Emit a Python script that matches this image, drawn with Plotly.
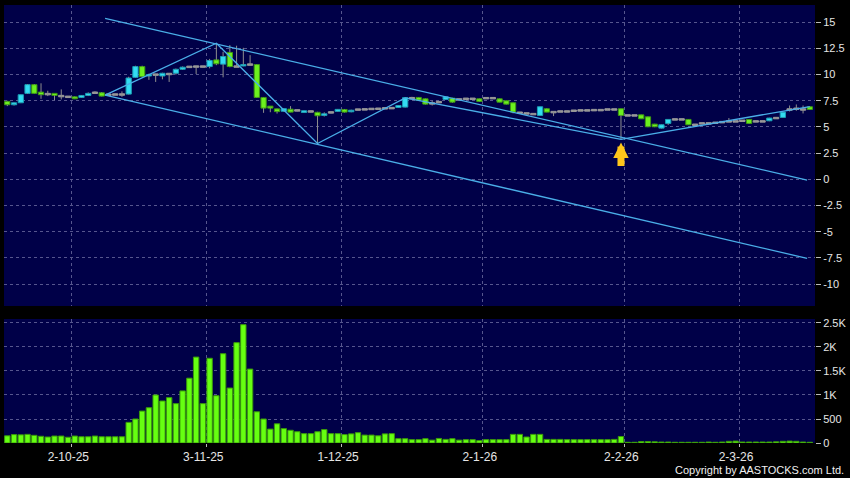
import plotly.graph_objects as go
import pandas as pd

# ---------------- data ----------------
holidays = ["2025-10-01", "2025-10-07", "2025-10-29", "2025-12-25", "2025-12-26",
            "2026-01-01", "2026-02-17", "2026-02-18", "2026-02-19"]
dates = pd.bdate_range("2025-09-17", "2026-03-16")
dates = dates[~dates.isin(pd.to_datetime(holidays))]

open_ = [7.44, 7.12, 7.31, 8.21, 9.04, 8.33, 8.14, 8.21, 7.95, 7.88,
         7.88, 7.82, 8.01, 8.27, 8.27, 8.08, 8.10, 8.10, 8.14, 9.74,
         10.77, 9.87, 10.00, 9.87, 10.06, 10.13, 10.51, 10.74, 10.77, 10.77,
         10.77, 11.41, 11.00, 12.12, 10.77, 10.83, 10.96, 10.96, 7.82, 6.99,
         6.73, 6.50, 6.70, 6.58, 6.38, 6.48, 6.40, 6.10, 6.39, 6.49,
         6.67, 6.45, 6.66, 6.68, 6.72, 6.74, 6.78, 6.80, 6.86, 6.90,
         7.75, 7.82, 7.69, 7.25, 7.37, 7.63, 7.75, 7.63, 7.69, 7.69,
         7.69, 7.75, 7.75, 7.69, 7.50, 7.31, 6.36, 6.29, 6.23, 6.10,
         6.74, 6.42, 6.48, 6.48, 6.55, 6.58, 6.58, 6.61, 6.61, 6.67,
         6.67, 6.74, 6.10, 6.10, 6.16, 5.97, 5.27, 4.89, 5.34, 5.72,
         5.72, 5.72, 5.21, 5.34, 5.34, 5.40, 5.46, 5.53, 5.53, 5.59,
         5.72, 5.53, 5.53, 5.59, 5.85, 5.91, 6.67, 6.74, 6.67, 6.93]
high = [7.50, 7.35, 8.10, 9.10, 9.10, 9.17, 8.46, 8.21, 8.59, 7.95,
        7.92, 8.05, 8.30, 8.40, 8.33, 8.14, 8.14, 8.40, 9.80, 10.85,
        10.85, 10.10, 10.05, 10.18, 10.10, 10.58, 10.78, 10.78, 10.80, 10.80,
        11.50, 13.00, 12.18, 12.82, 12.76, 12.56, 11.86, 11.00, 7.85, 7.00,
        6.76, 6.80, 6.99, 6.65, 6.58, 6.55, 6.45, 6.40, 6.45, 6.72,
        6.72, 6.65, 6.70, 6.72, 6.76, 6.80, 6.84, 6.86, 7.08, 7.82,
        7.88, 7.85, 7.72, 7.50, 7.45, 7.90, 7.78, 7.68, 7.72, 7.75,
        7.72, 7.80, 7.80, 7.72, 7.52, 7.33, 6.42, 6.36, 6.30, 6.95,
        6.78, 6.48, 6.55, 6.55, 6.60, 6.64, 6.64, 6.70, 6.66, 6.72,
        6.72, 6.76, 6.15, 6.14, 6.18, 6.00, 5.30, 5.24, 5.74, 5.76,
        5.76, 5.74, 5.25, 5.40, 5.40, 5.46, 5.52, 5.85, 5.60, 5.66,
        5.74, 5.60, 5.60, 5.88, 5.92, 6.44, 7.05, 7.15, 7.05, 6.95]
low = [6.99, 7.05, 7.28, 8.15, 8.18, 7.69, 7.95, 7.56, 7.63, 7.82,
       7.66, 7.78, 7.95, 8.21, 7.92, 8.01, 8.05, 7.88, 8.10, 9.70,
       9.75, 9.50, 9.30, 9.55, 9.30, 10.00, 10.45, 10.68, 10.06, 10.70,
       10.60, 10.90, 9.74, 10.70, 10.71, 10.80, 10.90, 7.78, 6.35, 6.41,
       6.28, 6.45, 6.40, 6.50, 6.35, 6.40, 3.42, 6.00, 6.30, 6.45,
       6.38, 6.40, 6.60, 6.62, 6.66, 6.68, 6.72, 6.74, 6.84, 6.86,
       7.63, 7.50, 7.15, 7.05, 7.30, 7.60, 7.32, 7.58, 7.64, 7.62,
       7.40, 7.70, 7.70, 7.35, 7.15, 6.30, 6.30, 6.22, 6.18, 6.08,
       6.40, 6.04, 6.42, 6.42, 6.50, 6.52, 6.54, 6.56, 6.56, 6.62,
       6.62, 3.80, 6.05, 6.06, 5.76, 4.98, 4.98, 4.85, 5.20, 5.68,
       5.68, 5.19, 5.17, 5.30, 5.30, 5.36, 5.42, 5.48, 5.48, 5.54,
       5.30, 5.48, 5.48, 5.55, 5.80, 5.88, 6.48, 6.55, 6.29, 6.65]
close = [7.12, 7.31, 8.08, 9.04, 8.21, 8.08, 8.14, 8.01, 7.95, 7.88,
         7.69, 8.01, 8.21, 8.27, 7.95, 8.08, 8.10, 8.10, 9.68, 10.77,
         9.81, 10.00, 10.00, 10.13, 10.06, 10.51, 10.71, 10.74, 10.77, 10.77,
         11.35, 11.03, 11.73, 10.77, 10.77, 10.96, 10.96, 7.82, 6.80, 6.80,
         6.47, 6.75, 6.42, 6.58, 6.55, 6.48, 6.07, 6.26, 6.39, 6.68,
         6.42, 6.60, 6.66, 6.68, 6.72, 6.74, 6.78, 6.80, 7.05, 7.80,
         7.75, 7.56, 7.18, 7.25, 7.37, 7.88, 7.37, 7.63, 7.69, 7.69,
         7.44, 7.75, 7.75, 7.37, 7.18, 6.42, 6.36, 6.29, 6.23, 6.93,
         6.42, 6.42, 6.48, 6.48, 6.55, 6.58, 6.58, 6.61, 6.61, 6.67,
         6.67, 6.10, 6.10, 6.10, 5.78, 5.02, 5.02, 5.21, 5.72, 5.72,
         5.72, 5.21, 5.21, 5.34, 5.34, 5.40, 5.46, 5.53, 5.53, 5.59,
         5.34, 5.53, 5.53, 5.85, 5.85, 6.42, 6.67, 6.74, 6.67, 6.67]
volume = [150, 175, 170, 180, 160, 140, 125, 145, 145, 120,
          145, 130, 130, 145, 130, 130, 130, 130, 430, 500,
          665, 735, 1000, 875, 945, 820, 1085, 1350, 1790, 820,
          1765, 985, 1860, 1145, 2090, 2465, 1540, 650, 500, 290,
          400, 300, 265, 235, 195, 195, 235, 280, 195, 195,
          175, 190, 215, 165, 165, 150, 190, 195, 90, 90,
          70, 70, 90, 60, 95, 75, 90, 60, 70, 70,
          50, 70, 70, 70, 70, 180, 180, 125, 180, 180,
          75, 75, 75, 70, 70, 70, 70, 70, 70, 70,
          75, 135, 15, 15, 30, 30, 25, 20, 20, 15,
          15, 15, 15, 15, 20, 15, 20, 35, 40, 20,
          20, 20, 20, 20, 25, 35, 40, 35, 20, 15]

# trend lines drawn on the chart (bar-index positions, price values)
zigzag_idx = [14.5, 31, 46, 59, 91, 119]
zigzag_val = [8.05, 13.0, 3.42, 7.78, 3.82, 6.95]
channel_idx = [14.5, 118.6]
channel_upper = [15.38, -0.07]
channel_lower = [8.05, -7.55]
arrow_idx = 91

price_ticks = [15, 12.5, 10, 7.5, 5, 2.5, 0, -2.5, -5, -7.5, -10]
price_tick_text = ["15", "12.5", "10", "7.5", "5", "2.5", "0", "-2.5", "-5", "-7.5", "-10"]
vol_ticks = [0, 500, 1000, 1500, 2000, 2500]
vol_tick_text = ["0", "500", "1K", "1.5K", "2K", "2.5K"]

# ---------------- styles ----------------
UP_FILL, UP_EDGE = "#33dcf2", "#1a9fb5"
DN_FILL, DN_EDGE = "#6cf01e", "#3d9a12"
FLAT = "#9a9a9a"
WICK = "#8e8e8e"
LINE = "#4aaee8"
GRID = "#56568e"
BG = "#000048"
FONT = "Liberation Sans, Arial, sans-serif"
TXT = "#e6e6e6"

n = len(close)
x = list(range(n))

# month-start ticks
tick_pos, tick_txt = [], []
for i in range(1, n):
    if dates[i].month != dates[i - 1].month:
        tick_pos.append(i - 0.5)
        tick_txt.append(f"{dates[i].day}-{dates[i].month}-{dates[i].strftime('%y')}")

# candle bodies and wicks
base, length, fill, edge = [], [], [], []
wx, wy = [], []
for o, h, l, c, i in zip(open_, high, low, close, x):
    lo, hi = min(o, c), max(o, c)
    if abs(c - o) < 1e-9:
        base.append(o - 0.07)
        length.append(0.14)
        fill.append(FLAT)
        edge.append(FLAT)
    else:
        base.append(lo)
        length.append(hi - lo)
        fill.append(UP_FILL if c > o else DN_FILL)
        edge.append(UP_EDGE if c > o else DN_EDGE)
    if h > hi:
        wx += [i, i, None]
        wy += [hi, h, None]
    if l < lo:
        wx += [i, i, None]
        wy += [lo, l, None]

fig = go.Figure()
fig.add_trace(go.Bar(x=x, y=length, base=base, width=0.78,
                     marker=dict(color=fill, line=dict(color=edge, width=1)),
                     xaxis="x", yaxis="y", hoverinfo="skip"))
fig.add_trace(go.Scatter(x=wx, y=wy, mode="lines", line=dict(color=WICK, width=1),
                         xaxis="x", yaxis="y", hoverinfo="skip"))
for yy in (channel_upper, channel_lower):
    fig.add_trace(go.Scatter(x=channel_idx, y=yy, mode="lines",
                             line=dict(color=LINE, width=1.3), xaxis="x", yaxis="y"))
fig.add_trace(go.Scatter(x=zigzag_idx, y=zigzag_val, mode="lines",
                         line=dict(color=LINE, width=1.3), xaxis="x", yaxis="y"))
fig.add_trace(go.Bar(x=x, y=volume, width=0.8,
                     marker=dict(color="#66ff11", line=dict(color="#3a9a0a", width=1)),
                     xaxis="x2", yaxis="y2", hoverinfo="skip"))

fig.add_annotation(x=arrow_idx, y=low[arrow_idx], xref="x", yref="y",
                   showarrow=True, ax=0, ay=28, standoff=3,
                   arrowhead=2, arrowsize=0.44, arrowwidth=7, arrowcolor="#ffc61a", text="")
fig.add_annotation(x=1.038, y=-0.062, xref="paper", yref="paper",
                   xanchor="right", yanchor="middle", showarrow=False,
                   text="Copyright by AASTOCKS.com Ltd.",
                   font=dict(family=FONT, size=11, color="#f0f0f0"))

axis_common = dict(showgrid=True, gridcolor=GRID, griddash="dot", gridwidth=1,
                   zeroline=False, showline=False)
fig.update_layout(
    width=850, height=478,
    margin=dict(l=4, r=35, t=5, b=35),
    paper_bgcolor="black", plot_bgcolor=BG,
    showlegend=False, barmode="overlay",
    font=dict(family=FONT, color=TXT),
    xaxis=dict(domain=[0, 1], anchor="y", range=[-0.49, 119.77],
               tickvals=tick_pos, showticklabels=False, ticks="", **axis_common),
    yaxis=dict(domain=[0.3128, 1], anchor="x", side="right", range=[-12.1, 16.65],
               tickvals=price_ticks, ticktext=price_tick_text, ticks="outside",
               ticklen=5, tickcolor="#bbbbbb", tickfont=dict(size=11, color=TXT),
               **axis_common),
    xaxis2=dict(domain=[0, 1], anchor="y2", matches="x", range=[-0.49, 119.77],
                tickvals=tick_pos, ticktext=tick_txt, ticks="outside", ticklen=3,
                tickcolor="#bbbbbb", tickfont=dict(size=12, color=TXT),
                ticklabelshift=-3, **axis_common),
    yaxis2=dict(domain=[0, 0.2831], anchor="x2", side="right", range=[0, 2583],
                tickvals=vol_ticks, ticktext=vol_tick_text, ticks="outside",
                ticklen=5, tickcolor="#bbbbbb", tickfont=dict(size=11, color=TXT),
                **axis_common),
)

fig.write_html(
    "out.html",
    config={"displayModeBar": False, "staticPlot": True},
    post_script="document.body.style.margin='0';document.body.style.padding='0';"
                "document.body.style.background='black';",
)
